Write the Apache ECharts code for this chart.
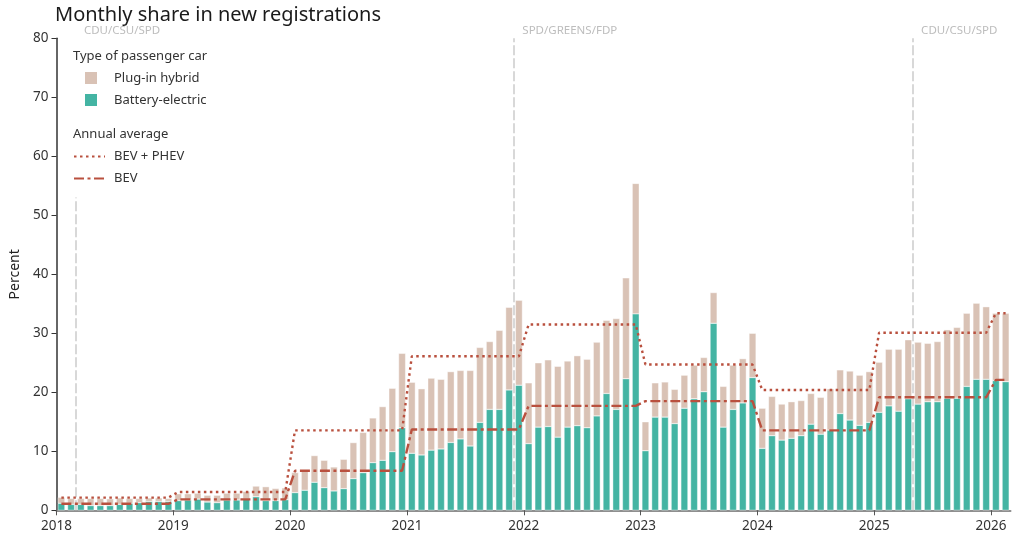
<!DOCTYPE html>
<html>
<head>
<meta charset="utf-8">
<script src="https://cdn.jsdelivr.net/npm/echarts@6/dist/echarts.min.js"></script>
<style>
  html, body { margin: 0; padding: 0; background: #fff; }
  #chart { width: 1015px; height: 537px; }
</style>
</head>
<body>
<div id="chart"></div>
<script>
// First month shown: January 2018, one value per month through February 2026
const startYear = 2018;
const yearTicks = [2018, 2019, 2020, 2021, 2022, 2023, 2024, 2025, 2026];

// Battery-electric share of new registrations, % per month
const bevMonthly = [
  1.2, 1.0, 1.0, 0.8, 0.8, 0.8, 1.0, 1.2, 1.3, 1.5, 1.5, 1.5,            // 2018
  1.65, 1.75, 1.9, 1.4, 1.3, 1.75, 1.75, 1.9, 2.3, 1.65, 1.65, 1.8,      // 2019
  3.0, 3.4, 4.75, 3.84, 3.28, 3.67, 5.37, 6.38, 8.08, 8.47, 9.94, 14.0,  // 2020
  9.66, 9.38, 10.2, 10.4, 11.5, 12.1, 10.9, 14.9, 17.1, 17.1, 20.4, 21.2,// 2021
  11.3, 14.1, 14.2, 12.4, 14.1, 14.35, 14.0, 16.0, 19.8, 17.1, 22.3, 33.3, // 2022
  10.1, 15.8, 15.8, 14.7, 17.3, 18.9, 20.1, 31.7, 14.1, 17.1, 18.2, 22.5,  // 2023
  10.5, 12.65, 11.9, 12.2, 12.65, 14.6, 12.9, 13.6, 16.4, 15.3, 14.4, 14.9,// 2024
  16.6, 17.7, 16.8, 18.9, 18.0, 18.4, 18.4, 19.0, 19.0, 21.0, 22.2, 22.2,  // 2025
  22.0, 21.8                                                              // 2026
];

// Battery-electric plus plug-in hybrid share, % per month
const totalMonthly = [
  2.2, 2.0, 2.0, 2.0, 2.0, 1.95, 2.1, 2.0, 2.0, 2.1, 2.1, 2.0,
  2.8, 2.8, 2.9, 2.55, 2.55, 2.9, 2.9, 3.2, 4.1, 4.0, 3.7, 3.8,
  6.4, 6.7, 9.27, 8.47, 7.34, 8.64, 11.47, 13.2, 15.65, 17.57, 20.68, 26.6,
  21.7, 20.6, 22.4, 22.2, 23.5, 23.7, 23.7, 27.6, 28.6, 30.5, 34.4, 35.6,
  21.6, 25.0, 25.5, 24.4, 25.3, 26.2, 25.6, 28.5, 32.2, 32.5, 39.4, 55.4,
  15.0, 21.6, 21.75, 20.5, 22.9, 24.6, 25.9, 36.9, 21.0, 24.6, 25.7, 30.0,
  17.3, 19.3, 18.0, 18.4, 18.6, 19.8, 19.15, 20.6, 23.8, 23.6, 22.9, 23.5,
  25.1, 27.3, 27.3, 28.9, 28.5, 28.3, 28.6, 30.6, 31.0, 33.4, 35.1, 34.5,
  33.4, 33.4
];

// Annual averages, one per calendar year 2018-2026
const annualTotal = [2.15, 3.1, 13.55, 26.1, 31.5, 24.7, 20.4, 30.1, 33.4];
const annualBev   = [1.1, 1.85, 6.7, 13.7, 17.7, 18.5, 13.55, 19.15, 22.1];

// Federal government coalitions and the day each took office
const coalitions = ['CDU/CSU/SPD', 'SPD/GREENS/FDP', 'CDU/CSU/SPD'];
const coalitionStart = ['2018-03-01', '2021-12-01', '2025-05-01'];

const FONT = '"Noto Sans", "Open Sans", sans-serif';
const TEAL = '#44b4a3';
const SAND = '#d9c2b5';
const RUST = '#b9503e';

const nMonths = bevMonthly.length;
// category axis for the monthly bars
const monthLabels = bevMonthly.map((_, i) => {
  const y = startYear + Math.floor(i / 12), m = (i % 12) + 1;
  return y + '-' + String(m).padStart(2, '0');
});
// continuous year axis spanning the same months, for ticks, averages and rules
const yearMin = startYear;
const yearMax = startYear + nMonths / 12;
function monthMid(i) { return startYear + (i + 0.5) / 12; }
function decimalYear(iso) {
  const [y, m, d] = iso.split('-').map(Number);
  const t = Date.UTC(y, m - 1, d), a = Date.UTC(y, 0, 1), b = Date.UTC(y + 1, 0, 1);
  return y + (t - a) / (b - a);
}

const phevMonthly = totalMonthly.map((v, i) => +(v - bevMonthly[i]).toFixed(2));
const avgTotalData = totalMonthly.map((_, i) => [monthMid(i), annualTotal[Math.floor(i / 12)]]);
const avgBevData = bevMonthly.map((_, i) => [monthMid(i), annualBev[Math.floor(i / 12)]]);

const coalitionX = coalitionStart.map(decimalYear);
// the earliest rule stops below the legend block
const ruleLines = coalitionX.map((x, k) => [
  { coord: [x, 0] },
  { coord: [x, k === 0 ? 53 : 80] }
]);
const ruleLabels = coalitionX.map((x, k) => ({ coord: [x, 80], value: coalitions[k] }));

const chart = echarts.init(document.getElementById('chart'), null, { renderer: 'canvas' });

chart.setOption({
  animation: false,
  backgroundColor: '#fff',
  textStyle: { fontFamily: FONT },
  title: {
    text: 'Monthly share in new registrations',
    left: 55, top: 5, padding: 0,
    textStyle: { fontFamily: FONT, fontSize: 20, fontWeight: 'normal', color: '#1a1a1a' }
  },
  grid: {
    left: 56.5, right: 4.5, top: 38.3, bottom: 26.7,
    containLabel: false, outerBoundsMode: 'none'
  },
  xAxis: [
    {
      type: 'category', data: monthLabels, boundaryGap: true, show: false
    },
    {
      type: 'value', min: yearMin, max: yearMax, interval: 1,
      position: 'bottom',
      splitLine: { show: false },
      axisLine: { show: true, lineStyle: { color: '#8f8f8f', width: 2 } },
      axisTick: { show: true, length: 5, customValues: yearTicks, lineStyle: { color: '#555', width: 1 } },
      axisLabel: {
        customValues: yearTicks, margin: 9,
        fontFamily: FONT, fontSize: 13.5, color: '#333',
        formatter: v => String(Math.round(v))
      }
    }
  ],
  yAxis: {
    type: 'value',
    min: 0, max: 80, interval: 10,
    name: 'Percent', nameLocation: 'middle', nameGap: 34,
    nameTextStyle: { fontFamily: FONT, fontSize: 14, color: '#222' },
    splitLine: { show: false },
    axisLine: { show: true, lineStyle: { color: '#333', width: 1.5 } },
    axisTick: { show: true, length: 5, lineStyle: { color: '#333' } },
    axisLabel: { margin: 8, fontFamily: FONT, fontSize: 13.5, color: '#333' }
  },
  legend: [
    {
      data: ['Plug-in hybrid', 'Battery-electric'],
      orient: 'vertical', left: 83, top: 70, padding: 0,
      itemWidth: 14, itemHeight: 14, itemGap: 6, icon: 'rect',
      selectedMode: false,
      textStyle: { fontFamily: FONT, fontSize: 13, color: '#333', padding: [0, 0, 0, 11] }
    },
    {
      data: ['BEV + PHEV', 'BEV'],
      orient: 'vertical', left: 73, top: 150, padding: 0,
      itemWidth: 31, itemHeight: 14, itemGap: 9,
      selectedMode: false,
      itemStyle: { opacity: 0 },
      textStyle: { fontFamily: FONT, fontSize: 13, color: '#333', padding: [0, 0, 0, 4] }
    }
  ],
  graphic: [
    { type: 'text', left: 73, top: 50, silent: true,
      style: { text: 'Type of passenger car', fontFamily: FONT, fontSize: 13, fill: '#333' } },
    { type: 'text', left: 73, top: 128, silent: true,
      style: { text: 'Annual average', fontFamily: FONT, fontSize: 13, fill: '#333' } }
  ],
  series: [
    {
      name: 'Battery-electric', type: 'bar', stack: 'share', xAxisIndex: 0,
      data: bevMonthly, barWidth: 7, z: 2,
      itemStyle: { color: TEAL, borderColor: '#fff', borderWidth: 0.4 }
    },
    {
      name: 'Plug-in hybrid', type: 'bar', stack: 'share', xAxisIndex: 0,
      data: phevMonthly, barWidth: 7, z: 2,
      itemStyle: { color: SAND, borderColor: '#fff', borderWidth: 0.4 }
    },
    {
      name: 'BEV + PHEV', type: 'line', xAxisIndex: 1, data: avgTotalData,
      symbol: 'none', showSymbol: false, z: 5,
      lineStyle: { color: RUST, width: 2.4, type: [2.5, 3.5] },
      itemStyle: { color: RUST },
      markLine: {
        silent: true, symbol: ['none', 'none'], z: 1,
        label: { show: false },
        lineStyle: { color: '#d8d8d8', width: 2, type: [10, 3] },
        data: ruleLines
      },
      markPoint: {
        silent: true, symbol: 'rect', symbolSize: 1,
        itemStyle: { color: 'rgba(0,0,0,0)' },
        label: {
          show: true, position: 'right', distance: 8, offset: [0, -8],
          formatter: p => p.value,
          fontFamily: FONT, fontSize: 11.5, color: '#bdbdbd'
        },
        data: ruleLabels
      }
    },
    {
      name: 'BEV', type: 'line', xAxisIndex: 1, data: avgBevData,
      symbol: 'none', showSymbol: false, z: 5,
      lineStyle: { color: RUST, width: 2.4, type: [10, 3.5, 3, 3.5] },
      itemStyle: { color: RUST }
    }
  ]
});
</script>
</body>
</html>
